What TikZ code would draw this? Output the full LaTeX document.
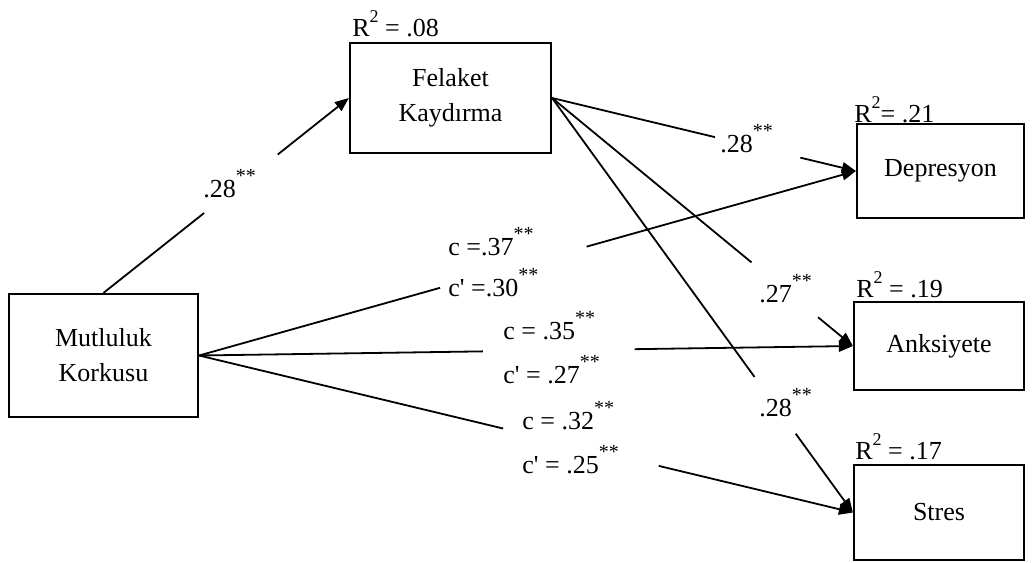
\documentclass[tikz,border=0pt]{standalone}
\usepackage{fontspec}
\setmainfont{Liberation Serif}
\usetikzlibrary{calc,arrows.meta}

\newcommand{\stars}{\raisebox{7.5pt}{\fontsize{10}{10}\selectfont **}}
\newcommand{\rsq}{R\raisebox{7pt}{\fontsize{9}{9}\selectfont 2}}
\newcommand{\cp}{c\textquotesingle}

\begin{document}
\begin{tikzpicture}[
  x=0.5pt,y=-0.5pt,
  font=\fontsize{13}{17.5}\selectfont,
  varbox/.style={draw,line width=1.1pt,align=center,inner sep=0pt},
  link/.style={line width=0.9pt},
  arrowlink/.style={link,-{Triangle[length=7pt,width=5.5pt]}},
  coef/.style={anchor=base west,inner sep=0pt}
]
  \useasboundingbox (0,0) rectangle (1035,563);

  % variables
  \node[varbox,minimum width=94.5pt,minimum height=61.5pt] (mk) at (103.5,355.5)
    {Mutluluk\\Korkusu};
  \node[varbox,minimum width=100.5pt,minimum height=55pt] (fk) at (450.5,98)
    {Felaket\\Kaydırma};
  \node[varbox,minimum width=83.5pt,minimum height=47pt] (dep) at (940.5,171)
    {Depresyon};
  \node[varbox,minimum width=85pt,minimum height=44pt] (ank) at (939,346)
    {Anksiyete};
  \node[varbox,minimum width=85pt,minimum height=47.5pt] (str) at (939,512.5)
    {Stres};

  % explained variance
  \node[coef] (rfk) at (352,36) {\rsq{} = .08};
  \node[coef] (rdep) at (854,122) {\rsq= .21};
  \node[coef] (rank) at (856,297) {\rsq{} = .19};
  \node[coef] (rstr) at (855,459) {\rsq{} = .17};

  % paths (broken where the coefficients sit)
  \draw[link] (mk.north) -- ($(mk.north)!0.41!(fk.west)$);
  \draw[arrowlink] ($(mk.north)!0.71!(fk.west)$) -- (fk.west);

  \draw[link] (fk.east) -- ($(fk.east)!0.536!(dep.west)$);
  \draw[arrowlink] ($(fk.east)!0.817!(dep.west)$) -- (dep.west);
  \draw[link] (fk.east) -- ($(fk.east)!0.663!(ank.west)$);
  \draw[arrowlink] ($(fk.east)!0.884!(ank.west)$) -- (ank.west);
  \draw[link] (fk.east) -- ($(fk.east)!0.673!(str.west)$);
  \draw[arrowlink] ($(fk.east)!0.81!(str.west)$) -- (str.west);

  \draw[link] (mk.east) -- ($(mk.east)!0.367!(dep.west)$);
  \draw[arrowlink] ($(mk.east)!0.59!(dep.west)$) -- (dep.west);
  \draw[link] (mk.east) -- ($(mk.east)!0.434!(ank.west)$);
  \draw[arrowlink] ($(mk.east)!0.666!(ank.west)$) -- (ank.west);
  \draw[link] (mk.east) -- ($(mk.east)!0.465!(str.west)$);
  \draw[arrowlink] ($(mk.east)!0.703!(str.west)$) -- (str.west);

  % coefficients
  \node[coef] (a) at (203,197) {.28\stars};
  \node[coef] (bdep) at (720,152) {.28\stars};
  \node[coef] (bank) at (759,302) {.27\stars};
  \node[coef] (bstr) at (759,416) {.28\stars};
  \node[coef] (cdep) at (448,255) {c =.37\stars};
  \node[coef] (cpdep) at (448,296) {\cp{} =.30\stars};
  \node[coef] (cank) at (503,339) {c = .35\stars};
  \node[coef] (cpank) at (503,383) {\cp{} = .27\stars};
  \node[coef] (cstr) at (522,429) {c = .32\stars};
  \node[coef] (cpstr) at (522,473) {\cp{} = .25\stars};
\end{tikzpicture}
\end{document}
